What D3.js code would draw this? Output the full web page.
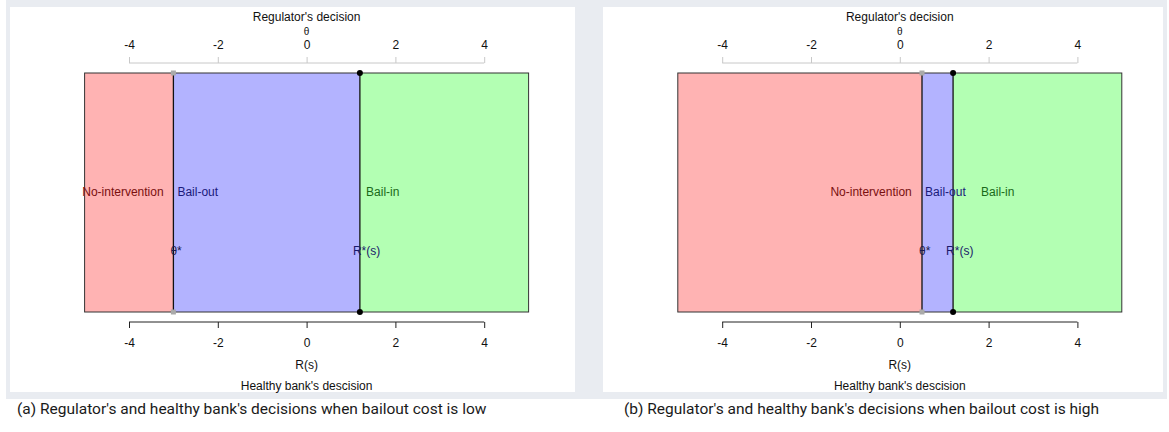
<!DOCTYPE html>
<html><head><meta charset="utf-8">
<script src="https://cdn.jsdelivr.net/npm/d3@7"></script>
<style>
html,body{margin:0;padding:0;background:#fff;}
svg{display:block;}
</style></head>
<body><svg id="chart" width="1169" height="432"></svg>
<script>
// ---- data ----
const panelIds = ["a", "b"];
const thetaStar = [-3.0, 0.5];
const rStar = [1.2, 1.2];
const xDomain = [-5, 5];
const tickValues = [-4, -2, 0, 2, 4];
const tickLabels = ["-4", "-2", "0", "2", "4"];
const regionNames = ["No-intervention", "Bail-out", "Bail-in"];
// label anchors in data units: [No-intervention end, Bail-out start, Bail-in start]
const labelAnchorsA = [-3.22, -2.91, 1.34];
const labelAnchorsB = [0.27, 0.57, 1.83];
const topTitle = "Regulator's decision";
const topAxisLabel = "θ";
const bottomAxisLabel = "R(s)";
const bottomTitle = "Healthy bank's descision";
const captions = [
  "(a) Regulator's and healthy bank's decisions when bailout cost is low",
  "(b) Regulator's and healthy bank's decisions when bailout cost is high"
];

// ---- layout ----
const svg = d3.select("#chart");
const fillColors = ["#ffb3b3", "#b3b3ff", "#b3ffb3"];
const textColors = ["#7a1010", "#1a1a7a", "#1a6a1a"];
const font = "'Liberation Sans', Arial, sans-serif";

svg.append("rect").attr("x", 6).attr("y", 0).attr("width", 1161).attr("height", 399).attr("fill", "#e9ecf1");

const layouts = [
  {panel: [10, 7, 565, 385], range: [84.6, 528.6], cap: 17},
  {panel: [603, 7, 560, 385], range: [677.8, 1121.8], cap: 624}
];
const plotTop = 73, plotBottom = 312;

panelIds.forEach((id, i) => {
  const L = layouts[i];
  const anchors = i === 0 ? labelAnchorsA : labelAnchorsB;
  svg.append("rect").attr("x", L.panel[0]).attr("y", L.panel[1])
     .attr("width", L.panel[2]).attr("height", L.panel[3]).attr("fill", "#fff");
  const g = svg.append("g");
  const x = d3.scaleLinear().domain(xDomain).range(L.range);
  const bounds = [xDomain[0], thetaStar[i], rStar[i], xDomain[1]];

  // regions
  g.selectAll("rect.reg").data(regionNames).enter().append("rect")
    .attr("x", (d, k) => x(bounds[k]))
    .attr("y", plotTop)
    .attr("width", (d, k) => x(bounds[k + 1]) - x(bounds[k]))
    .attr("height", plotBottom - plotTop)
    .attr("fill", (d, k) => fillColors[k]);
  g.append("rect").attr("x", x(xDomain[0])).attr("y", plotTop)
    .attr("width", x(xDomain[1]) - x(xDomain[0])).attr("height", plotBottom - plotTop)
    .attr("fill", "none").attr("stroke", "#333").attr("stroke-width", 1);

  // boundary lines
  [thetaStar[i], rStar[i]].forEach(v => {
    g.append("line").attr("x1", x(v)).attr("x2", x(v)).attr("y1", plotTop).attr("y2", plotBottom)
      .attr("stroke", "#111").attr("stroke-width", 1.3);
  });
  // markers
  [plotTop, plotBottom].forEach(yy => {
    g.append("rect").attr("x", x(thetaStar[i]) - 2.5).attr("y", yy - 2.5)
      .attr("width", 5).attr("height", 5).attr("fill", "#aaa");
    g.append("circle").attr("cx", x(rStar[i])).attr("cy", yy).attr("r", 3).attr("fill", "#000");
  });

  // region labels
  const ly = 196;
  g.append("text").attr("x", x(anchors[0])).attr("y", ly).attr("text-anchor", "end")
    .attr("font-family", font).attr("font-size", 12).attr("fill", textColors[0]).text(regionNames[0]);
  g.append("text").attr("x", x(anchors[1])).attr("y", ly).attr("text-anchor", "start")
    .attr("font-family", font).attr("font-size", 12).attr("fill", textColors[1]).text(regionNames[1]);
  g.append("text").attr("x", x(anchors[2])).attr("y", ly).attr("text-anchor", "start")
    .attr("font-family", font).attr("font-size", 12).attr("fill", textColors[2]).text(regionNames[2]);

  // threshold labels
  g.append("text").attr("x", x(thetaStar[i]) - 3).attr("y", 255)
    .attr("font-family", font).attr("font-size", 12).attr("fill", "#1a1a4a").text("θ*");
  g.append("text").attr("x", x(rStar[i]) - 7).attr("y", 255)
    .attr("font-family", font).attr("font-size", 12).attr("fill", "#1a1a6a").text("R*(s)");

  // top axis
  const topAx = g.append("g").attr("transform", "translate(0,63)")
    .call(d3.axisTop(x).tickValues(tickValues).tickFormat((d, k) => tickLabels[k]).tickSize(6).tickPadding(8));
  topAx.select(".domain").remove();
  topAx.selectAll(".tick line").attr("stroke", "#c8c8c8");
  topAx.selectAll(".tick text").attr("font-family", font).attr("font-size", 12).attr("fill", "#111");
  topAx.append("line").attr("x1", x(tickValues[0])).attr("x2", x(tickValues[tickValues.length - 1]))
    .attr("stroke", "#c8c8c8");

  // bottom axis
  const botAx = g.append("g").attr("transform", "translate(0,322)")
    .call(d3.axisBottom(x).tickValues(tickValues).tickFormat((d, k) => tickLabels[k]).tickSize(6).tickPadding(10));
  botAx.select(".domain").remove();
  botAx.selectAll(".tick line").attr("stroke", "#222");
  botAx.selectAll(".tick text").attr("font-family", font).attr("font-size", 12).attr("fill", "#111");
  botAx.append("line").attr("x1", x(tickValues[0])).attr("x2", x(tickValues[tickValues.length - 1]))
    .attr("stroke", "#222");

  const cx = x(0);
  g.append("text").attr("x", cx).attr("y", 21).attr("text-anchor", "middle")
    .attr("font-family", font).attr("font-size", 12).attr("fill", "#111").text(topTitle);
  g.append("text").attr("x", cx).attr("y", 35).attr("text-anchor", "middle")
    .attr("font-family", font).attr("font-size", 10).attr("fill", "#111").text(topAxisLabel);
  g.append("text").attr("x", cx).attr("y", 369).attr("text-anchor", "middle")
    .attr("font-family", font).attr("font-size", 12).attr("fill", "#111").text(bottomAxisLabel);
  g.append("text").attr("x", cx).attr("y", 390).attr("text-anchor", "middle")
    .attr("font-family", font).attr("font-size", 12).attr("fill", "#111").text(bottomTitle);

  svg.append("text").attr("x", L.cap).attr("y", 414)
    .attr("font-family", "Roboto, 'Noto Sans', sans-serif").attr("font-size", 15.5).attr("font-weight", 400)
    .attr("fill", "#1a1a1a").text(captions[i]);
});
</script></body></html>
